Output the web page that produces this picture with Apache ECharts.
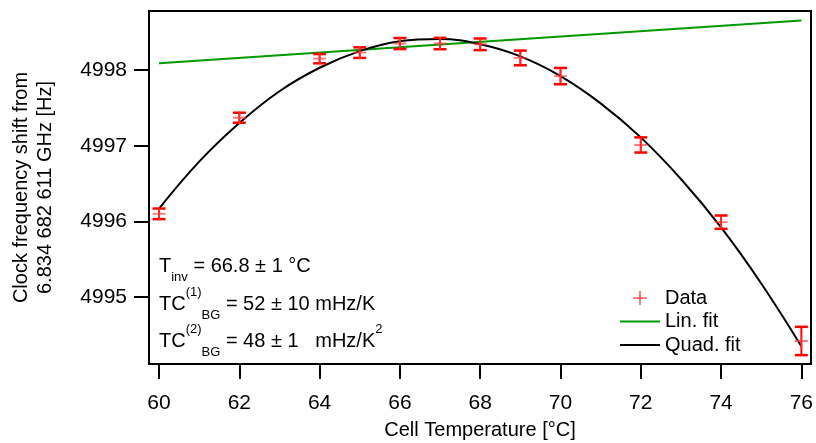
<!DOCTYPE html>
<html>
<head>
<meta charset="utf-8">
<script src="https://cdn.jsdelivr.net/npm/echarts@6/dist/echarts.min.js"></script>
<style>html,body{margin:0;padding:0;background:#fff}#c{width:816px;height:443px}</style>
</head>
<body>
<div id="c"></div>
<script>
// ---- data ----
const temps = [60, 62, 64, 65, 66, 67, 68, 69, 70, 72, 74, 76];
const freq  = [4996.10, 4997.37, 4998.15, 4998.23, 4998.35, 4998.35, 4998.34, 4998.16, 4997.92, 4997.01, 4995.99, 4994.42];
const errs  = [0.07, 0.066, 0.061, 0.07, 0.073, 0.075, 0.077, 0.097, 0.108, 0.10, 0.088, 0.187];
const linX  = [60, 76];
const linY  = [4998.09, 4998.656];
const quadX = [60, 61, 62, 63, 64, 65, 66, 67, 68, 69, 70, 71, 72, 73, 74, 75, 76];
const quadY = [4996.17, 4996.79, 4997.30, 4997.72, 4998.03, 4998.25, 4998.38, 4998.41, 4998.34, 4998.18, 4997.92, 4997.56, 4997.11, 4996.56, 4995.92, 4995.18, 4994.35];
const xTicks = [60, 62, 64, 66, 68, 70, 72, 74, 76];
const yTicks = [4995, 4996, 4997, 4998];

const FONT = '"Liberation Sans", Arial, sans-serif';
const chart = echarts.init(document.getElementById('c'), null, {renderer: 'canvas'});

const plusPath = 'path://M6,0h2v6h6v2h-6v6h-2v-6h-6v-2h6z';
const plusThin = 'path://M6.5,0h1v6.5h6.5v1h-6.5v6.5h-1v-6.5h-6.5v-1h6.5z';
const lineIcon = 'path://M0,0H40V2H0Z';

const main = {fontSize: 20, fontFamily: FONT, color: '#000', lineHeight: 36, verticalAlign: 'middle'};
const sup = {fontSize: 13, fontFamily: FONT, color: '#000', lineHeight: 14, verticalAlign: 'top'};
const sub = {fontSize: 13, fontFamily: FONT, color: '#000', lineHeight: 18, verticalAlign: 'bottom'};
const sub2 = {fontSize: 13, fontFamily: FONT, color: '#000', lineHeight: 29, verticalAlign: 'bottom'};
const rich = {m: main, p: sup, b: sub, c: sub2};

chart.setOption({
  animation: false,
  grid: {left: 149, top: 11, width: 662, height: 353, show: true, borderColor: '#000', borderWidth: 2, containLabel: false, outerBoundsMode: 'none'},
  xAxis: {
    type: 'value', min: 59.75, max: 76.24,
    name: 'Cell Temperature [°C]', nameLocation: 'middle', nameGap: 56,
    nameTextStyle: {fontSize: 20, fontFamily: FONT, color: '#000'},
    axisLine: {show: true, lineStyle: {color: '#000', width: 2}},
    axisTick: {show: true, inside: false, length: 15, lineStyle: {color: '#000', width: 2}, customValues: xTicks},
    axisLabel: {fontSize: 21, fontFamily: FONT, color: '#000', margin: 29, customValues: xTicks, formatter: v => String(v)},
    splitLine: {show: false}
  },
  yAxis: {
    type: 'value', min: 4994.116, max: 4998.78,
    name: 'Clock frequency shift from\n6.834 682 611 GHz [Hz]', nameLocation: 'middle', nameGap: 92, nameRotate: 90,
    nameTextStyle: {fontSize: 20, fontFamily: FONT, color: '#000', lineHeight: 24},
    axisLine: {show: true, lineStyle: {color: '#000', width: 2}},
    axisTick: {show: true, inside: false, length: 15, lineStyle: {color: '#000', width: 2}, customValues: yTicks},
    axisLabel: {fontSize: 21, fontFamily: FONT, color: '#000', margin: 22, customValues: yTicks, formatter: v => String(v)},
    splitLine: {show: false}
  },
  legend: {
    orient: 'vertical', left: 615, top: 283, itemWidth: 40, itemHeight: 14, itemGap: 3.5,
    textStyle: {fontSize: 20, fontFamily: FONT, color: '#000', lineHeight: 20},
    data: [
      {name: 'Data', icon: plusThin, itemStyle: {color: '#ff0000'}},
      {name: 'Lin. fit', icon: lineIcon, itemStyle: {color: '#009900'}},
      {name: 'Quad. fit', icon: lineIcon, itemStyle: {color: '#000'}}
    ]
  },
  series: [
    {
      name: 'Lin. fit', type: 'line', symbol: 'none', z: 2,
      data: linX.map((x, i) => [x, linY[i]]),
      lineStyle: {color: '#009900', width: 2}, itemStyle: {color: '#009900'}
    },
    {
      name: 'Quad. fit', type: 'line', symbol: 'none', smooth: 0.4, z: 3,
      data: quadX.map((x, i) => [x, quadY[i]]),
      lineStyle: {color: '#000', width: 2}, itemStyle: {color: '#000'}
    },
    {
      name: 'Data', type: 'custom', z: 4,
      data: temps.map((x, i) => [x, freq[i] - errs[i], freq[i] + errs[i]]),
      renderItem: function (params, api) {
        const lo = api.coord([api.value(0), api.value(1)]);
        const hi = api.coord([api.value(0), api.value(2)]);
        const w = 6.5;
        const st = {stroke: '#ff0000', lineWidth: 2.5};
        return {type: 'group', children: [
          {type: 'line', shape: {x1: lo[0], y1: lo[1], x2: hi[0], y2: hi[1]}, style: {stroke: '#ff0000', lineWidth: 2}},
          {type: 'line', shape: {x1: lo[0] - w, y1: lo[1], x2: lo[0] + w, y2: lo[1]}, style: st},
          {type: 'line', shape: {x1: hi[0] - w, y1: hi[1], x2: hi[0] + w, y2: hi[1]}, style: st}
        ]};
      },
      itemStyle: {color: '#ff0000'}
    },
    {
      name: 'Data', type: 'scatter', z: 5, symbol: plusPath, symbolSize: 13,
      data: temps.map((x, i) => [x, freq[i]]),
      itemStyle: {color: 'rgba(255,60,60,0.85)'}
    }
  ],
  graphic: [
    {type: 'text', left: 159, top: 256, style: {rich: rich, text: '{m|T}{b|inv}{m| = 66.8 ± 1 °C}'}},
    {type: 'text', left: 159, top: 286, style: {rich: rich, text: '{m|TC}{p|(1)}{c|BG}{m| = 52 ± 10 mHz/K}'}},
    {type: 'text', left: 159, top: 323, style: {rich: rich, text: '{m|TC}{p|(2)}{c|BG}{m| = 48 ± 1   mHz/K}{p|2}'}}
  ]
});
</script>
</body>
</html>
